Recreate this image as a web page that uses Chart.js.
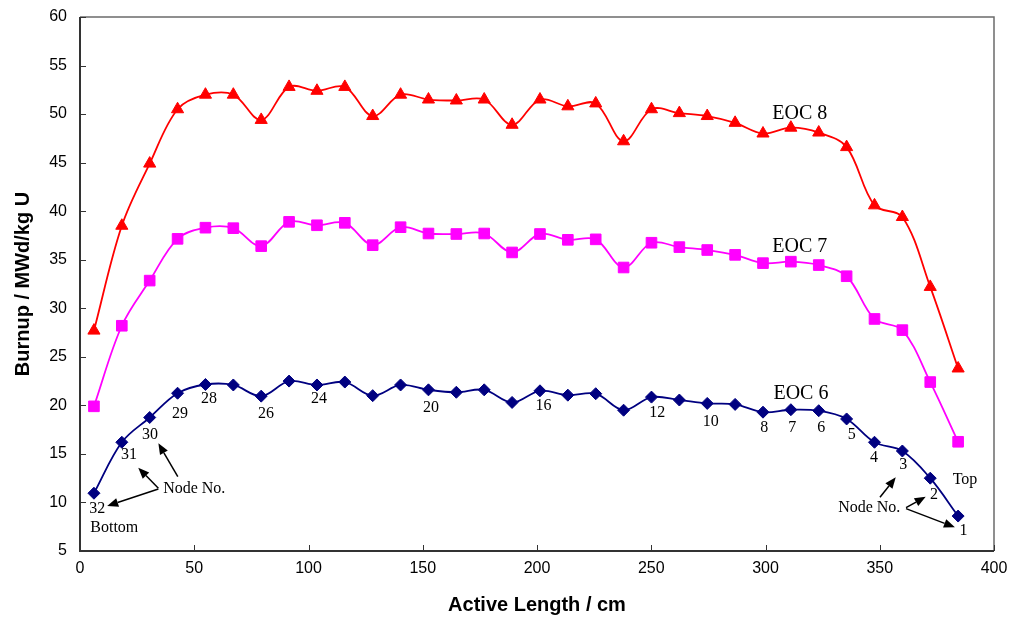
<!DOCTYPE html>
<html>
<head>
<meta charset="utf-8">
<script src="https://cdn.jsdelivr.net/npm/chart.js@4.4.1/dist/chart.umd.min.js"></script>
<style>
html,body{margin:0;padding:0;background:#fff;}
#wrap{width:1011px;height:617px;position:relative;}
</style>
</head>
<body>
<div id="wrap"><canvas id="c" width="1011" height="617"></canvas></div>
<script>
// Node centre heights along the active length (cm), bottom (node 32) to top (node 1)
const activeLength = [6.1, 18.3, 30.5, 42.7, 54.9, 67.1, 79.3, 91.5, 103.7, 115.9, 128.1, 140.3, 152.5, 164.7, 176.9, 189.1,
  201.3, 213.5, 225.7, 237.9, 250.1, 262.3, 274.5, 286.7, 298.9, 311.1, 323.3, 335.5, 347.7, 359.9, 372.1, 384.3];
const eoc8 = [27.7, 38.5, 44.9, 50.5, 52.0, 52.0, 49.4, 52.8, 52.4, 52.8, 49.8, 52.0, 51.5, 51.4, 51.5, 48.9,
  51.5, 50.8, 51.1, 47.2, 50.5, 50.1, 49.8, 49.1, 48.0, 48.6, 48.1, 46.6, 40.6, 39.4, 32.2, 23.8];
const eoc7 = [19.9, 28.2, 32.85, 37.15, 38.3, 38.25, 36.4, 38.9, 38.55, 38.8, 36.5, 38.35, 37.7, 37.65, 37.7, 35.75,
  37.65, 37.05, 37.1, 34.2, 36.75, 36.3, 36.0, 35.5, 34.65, 34.8, 34.45, 33.3, 28.9, 27.75, 22.4, 16.25];
const eoc6 = [10.95, 16.2, 18.75, 21.25, 22.15, 22.1, 20.95, 22.5, 22.1, 22.4, 21.0, 22.1, 21.6, 21.35, 21.6, 20.3,
  21.5, 21.05, 21.2, 19.5, 20.85, 20.55, 20.2, 20.1, 19.3, 19.55, 19.45, 18.6, 16.2, 15.3, 12.5, 8.6];
const seriesNames = ['EOC 8', 'EOC 7', 'EOC 6'];
const xTicks = [0, 50, 100, 150, 200, 250, 300, 350, 400];
const yTicks = [5, 10, 15, 20, 25, 30, 35, 40, 45, 50, 55, 60];

// Text annotations in data coordinates [text, x, y]
const seriesLabels = [['EOC 8', 315, 50.08], ['EOC 7', 315, 36.34], ['EOC 6', 315.5, 21.17]];
const nodeLabels = [
  ['32', 7.6, 9.33], ['Bottom', 15.0, 7.34], ['31', 21.4, 14.89], ['30', 30.6, 16.95], ['29', 43.8, 19.18],
  ['28', 56.5, 20.66], ['26', 81.4, 19.18], ['24', 104.6, 20.66], ['20', 153.6, 19.8], ['16', 202.8, 19.93],
  ['12', 252.6, 19.24], ['10', 276.0, 18.32], ['8', 299.5, 17.64], ['7', 311.7, 17.74], ['6', 324.4, 17.64],
  ['5', 337.7, 16.95], ['4', 347.5, 14.65], ['3', 360.3, 13.93], ['2', 373.7, 10.77], ['1', 386.6, 7.09],
  ['Top', 387.3, 12.38], ['Node No.', 50.0, 11.39], ['Node No.', 345.4, 9.4]
];
// Arrows [x0, y0, x1(tip), y1(tip)] in data coordinates
const arrows = [
  [34.3, 11.39, 11.9, 9.64], [34.3, 11.46, 25.5, 13.58], [42.8, 12.65, 34.3, 16.09],
  [350.1, 10.53, 357.0, 12.59], [361.5, 9.46, 370.1, 10.59], [361.5, 9.36, 382.9, 7.44]
];

const toPts = arr => arr.map((v, i) => ({x: activeLength[i], y: v}));

const framePlugin = {
  id: 'frame',
  afterDatasetsDraw(chart) {
    const {ctx, chartArea: a, scales: {x, y}} = chart;
    ctx.save();
    // top & right border
    ctx.strokeStyle = '#6b6b6b';
    ctx.lineWidth = 1.5;
    ctx.beginPath();
    ctx.moveTo(a.left, a.top); ctx.lineTo(a.right, a.top); ctx.lineTo(a.right, a.bottom);
    ctx.stroke();
    // left & bottom axis
    ctx.strokeStyle = '#333';
    ctx.lineWidth = 2;
    ctx.beginPath();
    ctx.moveTo(a.left, a.top); ctx.lineTo(a.left, a.bottom); ctx.lineTo(a.right, a.bottom);
    ctx.stroke();
    // inward ticks
    ctx.lineWidth = 1;
    ctx.strokeStyle = '#333';
    ctx.beginPath();
    xTicks.forEach(t => { const px = Math.round(x.getPixelForValue(t)) + 0.5; ctx.moveTo(px, a.bottom); ctx.lineTo(px, a.bottom - 6); });
    yTicks.forEach(t => { const py = Math.round(y.getPixelForValue(t)) + 0.5; ctx.moveTo(a.left, py); ctx.lineTo(a.left + 6, py); });
    ctx.stroke();

    // annotations
    ctx.fillStyle = '#000';
    ctx.textAlign = 'center';
    ctx.textBaseline = 'middle';
    ctx.font = '20px "Liberation Serif", "Times New Roman", serif';
    seriesLabels.forEach(([t, dx, dy]) => ctx.fillText(t, x.getPixelForValue(dx), y.getPixelForValue(dy)));
    ctx.font = '16px "Liberation Serif", "Times New Roman", serif';
    nodeLabels.forEach(([t, dx, dy]) => ctx.fillText(t, x.getPixelForValue(dx), y.getPixelForValue(dy)));
    ctx.strokeStyle = '#000';
    ctx.lineWidth = 1.5;
    arrows.forEach(([ax0, ay0, ax1, ay1]) => {
      const x0 = x.getPixelForValue(ax0), y0 = y.getPixelForValue(ay0);
      const x1 = x.getPixelForValue(ax1), y1 = y.getPixelForValue(ay1);
      const ang = Math.atan2(y1 - y0, x1 - x0);
      const L = 11, W = 4.5;
      const bx = x1 - L * Math.cos(ang), by = y1 - L * Math.sin(ang);
      ctx.beginPath(); ctx.moveTo(x0, y0); ctx.lineTo(bx, by); ctx.stroke();
      ctx.beginPath();
      ctx.moveTo(x1, y1);
      ctx.lineTo(bx + W * Math.sin(ang), by - W * Math.cos(ang));
      ctx.lineTo(bx - W * Math.sin(ang), by + W * Math.cos(ang));
      ctx.closePath(); ctx.fill();
    });
    ctx.restore();
  }
};

const tickFont = {family: '"Liberation Sans", Arial, sans-serif', size: 16};
const titleFont = {family: '"Liberation Sans", Arial, sans-serif', size: 20, weight: 'bold'};

new Chart(document.getElementById('c'), {
  type: 'line',
  data: {
    datasets: [
      {label: seriesNames[0], data: toPts(eoc8), borderColor: '#FF0000', backgroundColor: '#FF0000',
       pointStyle: 'triangle', pointRadius: 7, borderWidth: 1.8, pointBorderWidth: 1, tension: 0.35},
      {label: seriesNames[1], data: toPts(eoc7), borderColor: '#FF00FF', backgroundColor: '#FF00FF',
       pointStyle: 'rect', pointRadius: 7.5, borderWidth: 1.8, pointBorderWidth: 1, tension: 0.35},
      {label: seriesNames[2], data: toPts(eoc6), borderColor: '#000080', backgroundColor: '#000080',
       pointStyle: 'rectRot', pointRadius: 6, borderWidth: 1.8, pointBorderWidth: 1, tension: 0.35}
    ]
  },
  options: {
    responsive: false,
    animation: false,
    events: [],
    layout: {padding: {top: 17, right: 17, left: 0, bottom: 0}, autoPadding: false},
    plugins: {legend: {display: false}, tooltip: {enabled: false}},
    scales: {
      x: {
        type: 'linear', min: 0, max: 400,
        afterBuildTicks: s => { s.ticks = xTicks.map(v => ({value: v})); },
        afterFit: s => { s.height = 66; s.paddingLeft = 0; s.paddingRight = 0; },
        grid: {display: false, drawTicks: false},
        border: {display: false},
        ticks: {font: tickFont, color: '#000', padding: 8, maxRotation: 0, autoSkip: false},
        title: {display: true, text: 'Active Length / cm', font: titleFont, color: '#000', padding: {top: 0, bottom: 0}}
      },
      y: {
        type: 'linear', min: 5, max: 60,
        afterBuildTicks: s => { s.ticks = yTicks.map(v => ({value: v})); },
        afterFit: s => { s.width = 80; s.paddingTop = 0; s.paddingBottom = 0; },
        grid: {display: false, drawTicks: false},
        border: {display: false},
        ticks: {font: tickFont, color: '#000', padding: 13, autoSkip: false},
        title: {display: true, text: 'Burnup / MWd/kg U', font: titleFont, color: '#000', padding: {top: 11, bottom: 0}}
      }
    }
  },
  plugins: [framePlugin]
});
</script>
</body>
</html>
